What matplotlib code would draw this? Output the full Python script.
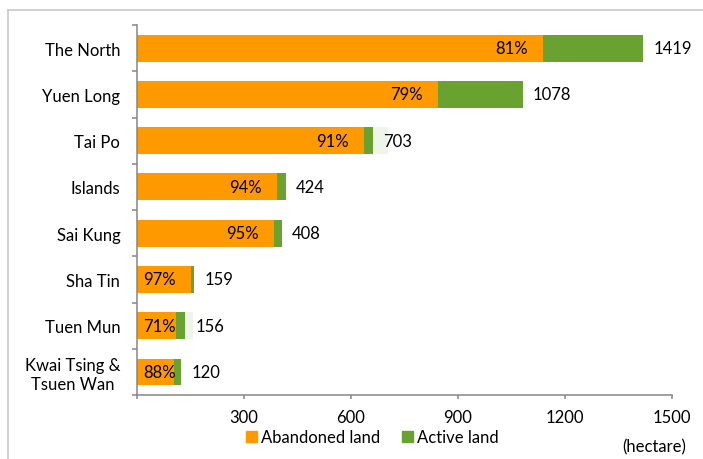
import matplotlib
matplotlib.use('Agg')
import matplotlib.pyplot as plt
import matplotlib.patches as mpatches
from matplotlib.lines import Line2D
import numpy as np

plt.rcParams['font.family'] = ['Lato', 'DejaVu Sans']

# districts, top to bottom
districts = ['The North', 'Yuen Long', 'Tai Po', 'Islands', 'Sai Kung',
             'Sha Tin', 'Tuen Mun', 'Kwai Tsing &\nTsuen Wan']
# bar lengths as drawn (hectare)
abandoned = [1138, 843, 636, 392, 384, 151, 109, 104]
active = [282, 238, 25, 25, 22, 9, 25, 19]
other = [0, 0, 42, 0, 0, 0, 23, 0]  # faint leftover segment
pct_labels = ['81%', '79%', '91%', '94%', '95%', '97%', '71%', '88%']
total_labels = ['1419', '1078', '703', '424', '408', '159', '156', '120']
xticks = [0, 300, 600, 900, 1200, 1500]

orange = '#FF9900'
green = '#6AA232'
faint = '#EFF5EA'
grey = '#868686'

fig = plt.figure(figsize=(7.03, 4.60), dpi=100)
ax = fig.add_axes([0.1949, 0.139, 0.761, 0.8045])

y = np.arange(len(districts))
h = 0.58
ab = np.array(abandoned)
ac = np.array(active)
ot = np.array(other)
ax.barh(y, ab, height=h, color=orange)
ax.barh(y, ac, left=ab, height=h, color=green)
ax.barh(y, ot, left=ab + ac, height=h, color=faint)

for i in range(len(districts)):
    if ab[i] < 130:
        # short bars: label sits just right of the axis
        ax.annotate(pct_labels[i], (0, y[i]), xytext=(4.5, 0), textcoords='offset points',
                    ha='left', va='center', fontsize=12, color='black')
    else:
        ax.annotate(pct_labels[i], (ab[i], y[i]), xytext=(-11, 0), textcoords='offset points',
                    ha='right', va='center', fontsize=12, color='black')
    ax.annotate(total_labels[i], (ab[i] + ac[i], y[i]), xytext=(7.5, 0),
                textcoords='offset points', ha='left', va='center', fontsize=12, color='black')

ax.set_ylim(len(districts) - 0.5, -0.5)
ax.set_xlim(0, 1500)
ax.set_yticks(y)
ax.set_yticklabels(districts, fontsize=12, ha='right', multialignment='center')
ax.tick_params(axis='y', length=0, pad=12)
ax.set_yticks(np.arange(-0.5, len(districts), 1), minor=True)
ax.tick_params(axis='y', which='minor', length=3.5, width=1.1, color=grey, direction='out')

ax.set_xticks(xticks)
ax.set_xticklabels([''] + [str(v) for v in xticks[1:]], fontsize=12)
ax.tick_params(axis='x', length=3, width=1.1, color=grey, direction='out', pad=7)

for s in ['top', 'right']:
    ax.spines[s].set_visible(False)
for s in ['left', 'bottom']:
    ax.spines[s].set_color(grey)
    ax.spines[s].set_linewidth(1.1)

handles = [mpatches.Patch(color=orange, label='Abandoned land'),
           mpatches.Patch(color=green, label='Active land')]
fig.legend(handles=handles, loc='center', bbox_to_anchor=(0.53, 0.048), ncol=2,
           frameon=False, fontsize=12, handlelength=0.65, handleheight=0.65,
           handletextpad=0.25, columnspacing=1.3, borderpad=0)
fig.text(0.976, 0.028, '(hectare)', ha='right', va='center', fontsize=12)

# outer chart frame
fig.add_artist(Line2D([0.012, 0.012], [0, 0.976], color='#C8C8C8', lw=1.2))
fig.add_artist(Line2D([0.012, 1.0], [0.976, 0.976], color='#C8C8C8', lw=1.2))

fig.savefig('out.png', dpi=100)
